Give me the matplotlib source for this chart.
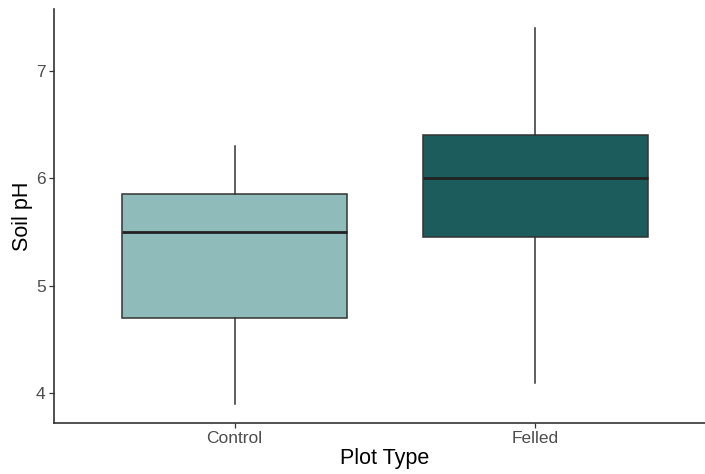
import numpy as np
import matplotlib.pyplot as plt

plt.rcParams['font.family'] = ['Liberation Sans', 'DejaVu Sans']

# Box summary for each plot type
plot_types = ['Control', 'Felled']
whisker_low = [3.9, 4.1]
q1 = [4.7, 5.45]
median = [5.5, 6.0]
q3 = [5.85, 6.4]
whisker_high = [6.3, 7.4]
fill_colors = ['#8FBCBB', '#1D5C5C']

stats = []
for i, name in enumerate(plot_types):
    stats.append({'label': name, 'whislo': whisker_low[i], 'q1': q1[i],
                  'med': median[i], 'q3': q3[i], 'whishi': whisker_high[i],
                  'fliers': []})

fig = plt.figure(figsize=(7.05, 4.74), dpi=100)
ax = fig.add_axes([0.0766, 0.108, 0.939, 0.873])

positions = np.arange(1, len(plot_types) + 1)
bp = ax.bxp(stats, positions=positions, widths=0.75, patch_artist=True,
            showcaps=False, showfliers=False,
            boxprops=dict(edgecolor='#333333', linewidth=1.1),
            medianprops=dict(color='#222222', linewidth=2.0),
            whiskerprops=dict(color='#333333', linewidth=1.1))
for patch, c in zip(bp['boxes'], fill_colors):
    patch.set_facecolor(c)

ax.set_xlim(0.4, 2.6)
ax.set_ylim(3.725, 7.575)
ax.set_yticks([4, 5, 6, 7])
ax.set_xticks(positions)
ax.set_xticklabels(plot_types)

for side in ['top', 'right']:
    ax.spines[side].set_visible(False)
for side in ['left', 'bottom']:
    ax.spines[side].set_color('#333333')
    ax.spines[side].set_linewidth(1.2)

ax.tick_params(axis='both', colors='#333333', labelcolor='#4D4D4D',
               labelsize=12.5, length=3.5, width=0.9, pad=2.5)
ax.set_xlabel('Plot Type', fontsize=15.5, color='black', labelpad=1)
ax.set_ylabel('Soil pH', fontsize=15.5, color='black', labelpad=2)

fig.savefig('out.png', dpi=100)
